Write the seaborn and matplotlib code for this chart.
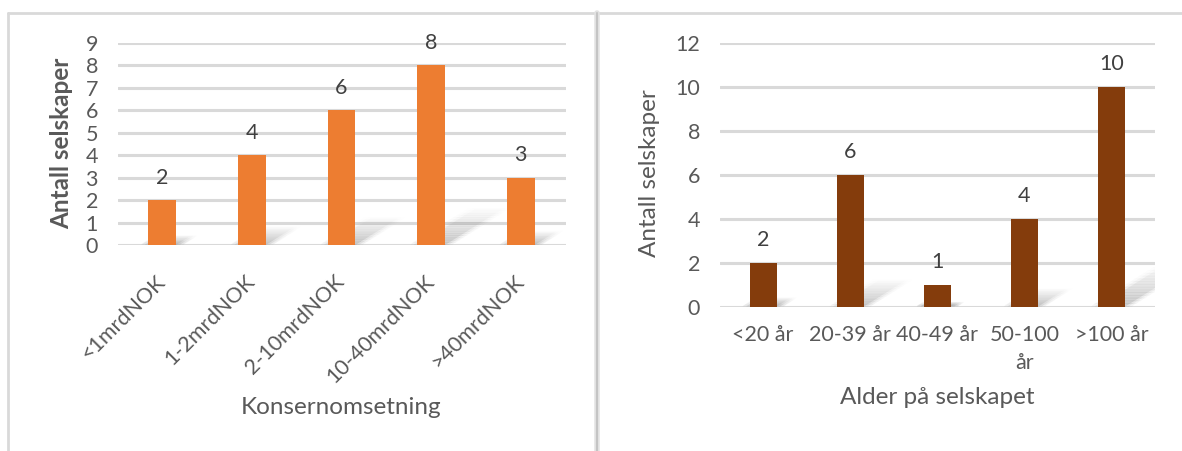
import numpy as np
import pandas as pd
import matplotlib
matplotlib.use("Agg")
import matplotlib.pyplot as plt
from matplotlib.patches import Polygon
from matplotlib.lines import Line2D
import seaborn as sns

# Data
revenue_groups = ["<1mrdNOK", "1-2mrdNOK", "2-10mrdNOK", "10-40mrdNOK", ">40mrdNOK"]
revenue_counts = [2, 4, 6, 8, 3]
age_groups = ["<20 år", "20-39 år", "40-49 år", "50-100\når", ">100 år"]
age_counts = [2, 6, 1, 4, 10]
y_label = "Antall selskaper"
x_label_left = "Konsernomsetning"
x_label_right = "Alder på selskapet"

sns.set_theme(style="white")
plt.rcParams["font.family"] = ["Lato", "DejaVu Sans"]

TEXT = "#595959"
GRID = "#d9d9d9"
ORANGE = "#ED7D31"
BROWN = "#843C0C"
W, H = 1182, 451
TICK_FS = 15.5
LABEL_FS = 17.5

fig = plt.figure(figsize=(W / 100, H / 100), dpi=100)


def px_box(x0, x1, ytop, ybot):
    return [x0 / W, 1 - ybot / H, (x1 - x0) / W, (ybot - ytop) / H]


ax1 = fig.add_axes(px_box(117.5, 565.6, 42.7, 245.0))
ax2 = fig.add_axes(px_box(719.5, 1155.0, 42.7, 306.7))

df1 = pd.DataFrame({"cat": revenue_groups, "n": revenue_counts})
df2 = pd.DataFrame({"cat": age_groups, "n": age_counts})

sns.barplot(data=df1, x="cat", y="n", color=ORANGE, saturation=1, width=0.31,
            linewidth=0, ax=ax1, zorder=3)
sns.barplot(data=df2, x="cat", y="n", color=BROWN, saturation=1, width=0.31,
            linewidth=0, ax=ax2, zorder=3)


def add_shadows(ax, values):
    """Soft slanted shadow cast behind each bar."""
    fig.canvas.draw()
    bbox = ax.get_window_extent()
    x_lo, x_hi = ax.get_xlim()
    y_lo, y_hi = ax.get_ylim()
    px_x = bbox.width / (x_hi - x_lo)
    px_y = bbox.height / (y_hi - y_lo)
    for patch, v in zip(ax.patches, values):
        x0 = patch.get_x()
        x1 = x0 + patch.get_width()
        h_px = v * px_y
        dx = 0.32 * h_px / px_x
        dy = 0.2 * v
        n = 16
        for i in range(n):
            t0, t1 = i / n, (i + 1) / n
            a = 0.42 * (1 - t0) ** 1.2
            for grow, fa in ((0.0, 1.0), (0.04, 0.5), (0.08, 0.3)):
                pts = [
                    (x0 + dx * t0 - grow, dy * t0),
                    (x1 + dx * t0 + grow, dy * t0),
                    (x1 + dx * t1 + grow, dy * t1 + grow * 0.6),
                    (x0 + dx * t1 - grow, dy * t1 + grow * 0.6),
                ]
                ax.add_patch(Polygon(pts, closed=True, facecolor="#6f6f6f",
                                     edgecolor="none", alpha=a * fa * 0.5, zorder=2))


for ax, vals, top, step in ((ax1, revenue_counts, 9, 1), (ax2, age_counts, 12, 2)):
    ax.set_ylim(0, top)
    ax.set_xlim(-0.5, len(vals) - 0.5)
    ax.set_yticks(np.arange(0, top + 1, step))
    ax.yaxis.grid(True, color=GRID, linewidth=2.2, zorder=0)
    ax.set_axisbelow(True)
    for s in ax.spines.values():
        s.set_visible(False)
    ax.tick_params(axis="both", length=0, colors=TEXT, labelsize=TICK_FS)
    ax.tick_params(axis="y", pad=14)
    ax.bar_label(ax.containers[0], labels=[str(v) for v in vals], padding=9,
                 fontsize=TICK_FS, color="#404040")
    for lab in ax.get_yticklabels():
        lab.set_color(TEXT)

add_shadows(ax1, revenue_counts)
add_shadows(ax2, age_counts)

# Left panel: rotated category labels
ax1.tick_params(axis="x", pad=24)
for lab in ax1.get_xticklabels():
    lab.set_rotation(45)
    lab.set_ha("right")
    lab.set_va("center")
    lab.set_rotation_mode("anchor")
    lab.set_color(TEXT)
ax2.tick_params(axis="x", pad=13)
for lab in ax2.get_xticklabels():
    lab.set_color(TEXT)
    lab.set_linespacing(1.5)

ax1.set_xlabel(x_label_left, fontsize=LABEL_FS, color=TEXT)
ax1.set_ylabel(y_label, fontsize=LABEL_FS, color=TEXT, fontweight="bold")
ax2.set_xlabel(x_label_right, fontsize=LABEL_FS, color=TEXT)
ax2.set_ylabel(y_label, fontsize=LABEL_FS, color=TEXT)
for ax in (ax1, ax2):
    ax.xaxis.label.set_va("center")
    ax.yaxis.label.set_va("center")
ax1.xaxis.set_label_coords(0.499, (245 - 407) / 202.3)
ax2.xaxis.set_label_coords(0.499, (306.7 - 397) / 264.0)
ax1.yaxis.set_label_coords((62 - 117.5) / 448.1, 0.504)
ax2.yaxis.set_label_coords((650 - 719.5) / 435.5, 0.506)


# Panel frames
def fig_line(xs, ys, color, lw):
    fig.add_artist(Line2D([x / W for x in xs], [1 - y / H for y in ys],
                          color=color, linewidth=lw, transform=fig.transFigure))


fig_line([8, W], [13, 13], "#d9d9d9", 2.0)
fig_line([8, 8], [13, H], "#d9d9d9", 2.0)
fig_line([597.5, 597.5], [13, H], "#e3e3e3", 4.0)
fig_line([597.5, 597.5], [13, H], "#c4c4c4", 1.5)

fig.savefig("out.png", dpi=100, facecolor="white")
